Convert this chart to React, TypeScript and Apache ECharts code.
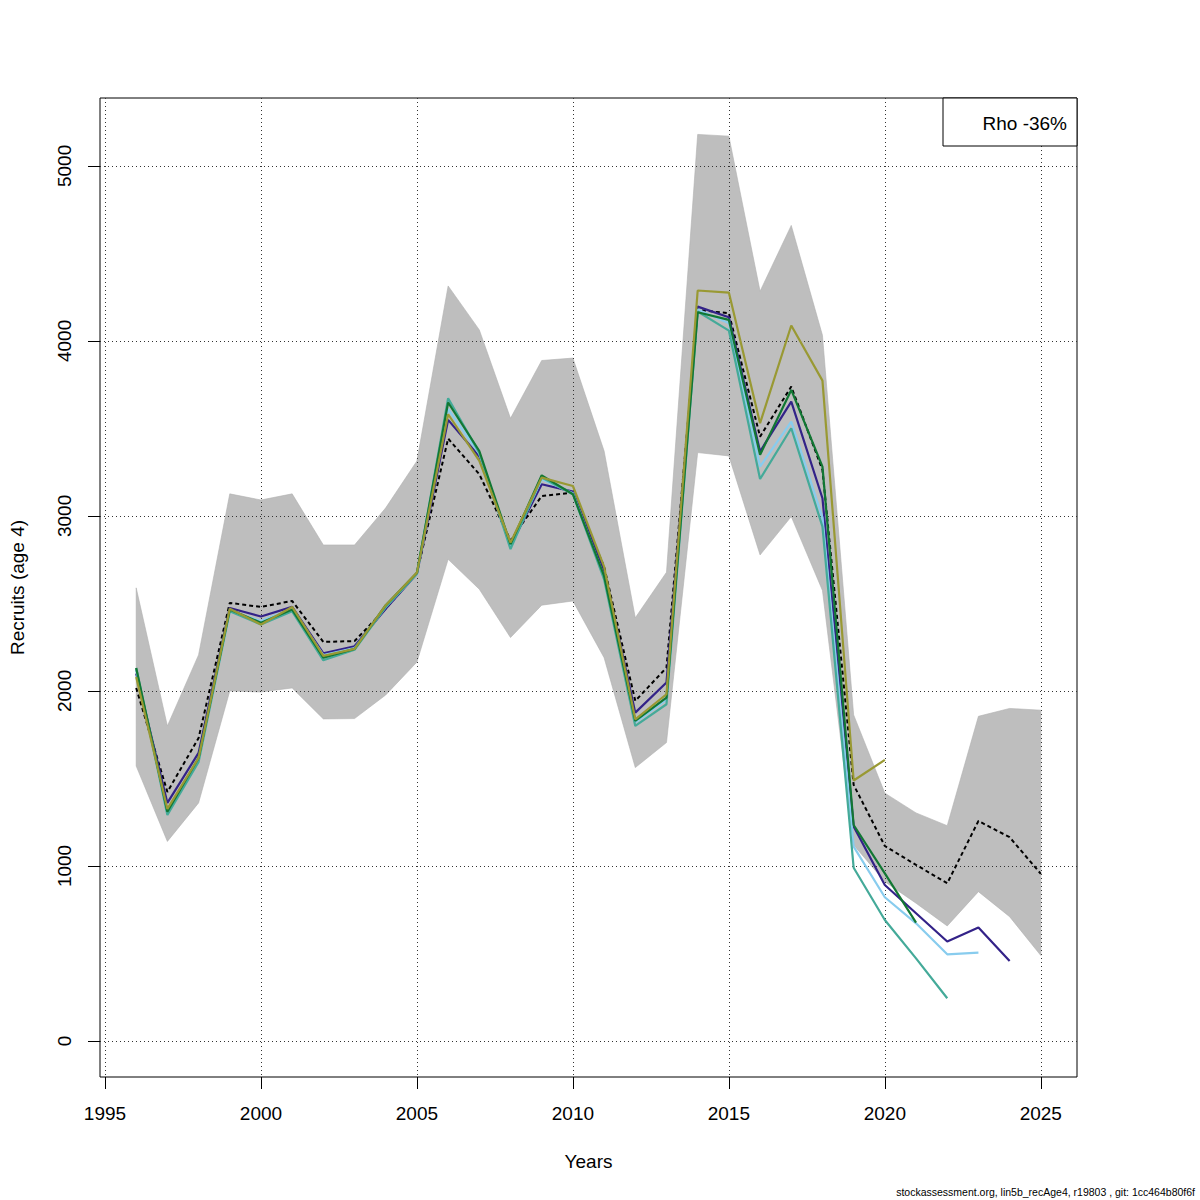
import React, { useEffect, useRef } from "react";
import * as echarts from "echarts";

const years = [1996, 1997, 1998, 1999, 2000, 2001, 2002, 2003, 2004, 2005, 2006, 2007, 2008, 2009, 2010, 2011, 2012, 2013, 2014, 2015, 2016, 2017, 2018, 2019, 2020, 2021, 2022, 2023, 2024, 2025];

const recruits = [2017, 1423, 1731, 2503, 2480, 2514, 2280, 2285, 2470, 2674, 3442, 3238, 2860, 3114, 3133, 2710, 1943, 2133, 4177, 4158, 3453, 3739, 3263, 1463, 1114, 1006, 901, 1257, 1164, 955];
const upperCI = [2589, 1800, 2206, 3126, 3091, 3126, 2834, 2834, 3046, 3314, 4314, 4063, 3558, 3888, 3902, 3371, 2418, 2678, 5180, 5170, 4284, 4660, 4032, 1863, 1416, 1303, 1230, 1855, 1900, 1890];
const lowerCI = [1571, 1140, 1360, 2000, 1994, 2017, 1840, 1842, 1977, 2165, 2752, 2581, 2305, 2490, 2514, 2190, 1562, 1705, 3362, 3343, 2777, 2996, 2574, 1120, 910, 787, 657, 853, 710, 488];

const peel1 = [2100, 1360, 1646, 2474, 2425, 2480, 2215, 2255, 2470, 2670, 3549, 3340, 2830, 3181, 3139, 2690, 1876, 2048, 4196, 4135, 3368, 3653, 3101, 1225, 891, 730, 568, 648, 457];
const peel2 = [2120, 1300, 1605, 2455, 2400, 2470, 2205, 2245, 2480, 2670, 3610, 3355, 2825, 3210, 3130, 2650, 1820, 1950, 4180, 4101, 3282, 3539, 2990, 1110, 821, 672, 495, 505];
const peel3 = [2131, 1291, 1594, 2455, 2380, 2455, 2175, 2235, 2480, 2670, 3672, 3360, 2810, 3220, 3124, 2638, 1800, 1924, 4168, 4059, 3211, 3501, 2939, 990, 691, 472, 244];
const peel4 = [2131, 1310, 1617, 2465, 2390, 2465, 2190, 2240, 2490, 2675, 3648, 3371, 2838, 3232, 3124, 2657, 1829, 1962, 4164, 4120, 3349, 3720, 3282, 1234, 958, 676];
const peel5 = [2080, 1326, 1617, 2470, 2380, 2480, 2200, 2240, 2490, 2676, 3581, 3314, 2848, 3219, 3171, 2710, 1838, 1981, 4288, 4276, 3530, 4088, 3773, 1488, 1606];

const peelColors = ["#332288", "#88CCEE", "#44AA99", "#117733", "#999933"];

const xTicks = [1995, 2000, 2005, 2010, 2015, 2020, 2025];
const yTicks = [0, 1000, 2000, 3000, 4000, 5000];

const xTitle = "Years";
const yTitle = "Recruits (age 4)";
const rhoLabel = "Rho -36%";
const footer = "stockassessment.org, lin5b_recAge4, r19803 , git: 1cc464b80f6f";

const FONT = "'Liberation Sans', Arial, Helvetica, sans-serif";

const pairs = (vals: number[]) => vals.map((v, i) => [years[i], v]);

export default function App() {
  const ref = useRef<HTMLDivElement>(null);

  useEffect(() => {
    document.body.style.margin = "0";
    if (!ref.current) return;
    const chart = echarts.init(ref.current, undefined, { renderer: "svg" });

    const peels = [peel1, peel2, peel3, peel4, peel5];

    const option: any = {
      animation: false,
      backgroundColor: "#ffffff",
      textStyle: { fontFamily: FONT },
      grid: {
        left: 98,
        top: 98,
        width: 979,
        height: 979,
        show: true,
        borderColor: "#000000",
        borderWidth: 1,
        backgroundColor: "transparent",
      },
      xAxis: {
        type: "value",
        min: 1994.84,
        max: 2026.16,
        z: 2,
        name: xTitle,
        nameLocation: "middle",
        nameGap: 75,
        nameTextStyle: { fontSize: 19, color: "#000", fontFamily: FONT },
        axisLine: { show: false, onZero: false },
        axisTick: {
          show: true,
          length: 12,
          inside: false,
          customValues: xTicks,
          lineStyle: { color: "#000", width: 1 },
        },
        axisLabel: {
          show: true,
          customValues: xTicks,
          fontSize: 19,
          color: "#000",
          margin: 27,
          fontFamily: FONT,
          formatter: (v: number) => String(v),
        },
        splitLine: {
          show: true,
          lineStyle: { color: "#333", width: 1, type: [1, 3] },
        },
      },
      yAxis: {
        type: "value",
        min: -206,
        max: 5388,
        z: 2,
        name: yTitle,
        nameLocation: "middle",
        nameGap: 73,
        nameRotate: 90,
        nameTextStyle: { fontSize: 19, color: "#000", fontFamily: FONT },
        axisLine: { show: false, onZero: false },
        axisTick: {
          show: true,
          length: 12,
          inside: false,
          customValues: yTicks,
          lineStyle: { color: "#000", width: 1 },
        },
        axisLabel: {
          show: true,
          customValues: yTicks,
          fontSize: 19,
          color: "#000",
          rotate: 90,
          margin: 26,
          fontFamily: FONT,
          formatter: (v: number) => String(v),
        },
        splitLine: {
          show: true,
          lineStyle: { color: "#333", width: 1, type: [1, 3] },
        },
      },
      series: [
        {
          type: "custom",
          name: "CI",
          z: 1,
          data: years.map((y, i) => [y, lowerCI[i], upperCI[i]]),
          encode: { x: 0, y: [1, 2] },
          renderItem: (params: any, api: any) => {
            if (params.dataIndex !== 0) return null;
            const pts: number[][] = [];
            for (let i = 0; i < years.length; i++) pts.push(api.coord([years[i], upperCI[i]]));
            for (let i = years.length - 1; i >= 0; i--) pts.push(api.coord([years[i], lowerCI[i]]));
            return {
              type: "polygon",
              shape: { points: pts },
              style: { fill: "#BEBEBE", stroke: "#B0B0B0", lineWidth: 0.6 },
            };
          },
        },
        {
          type: "line",
          name: "Estimate",
          z: 3,
          data: pairs(recruits),
          symbol: "none",
          lineStyle: { color: "#000000", width: 2, type: [4, 3] },
        },
        ...peels.map((p, k) => ({
          type: "line",
          name: "Peel " + (k + 1),
          z: 4,
          data: pairs(p),
          symbol: "none",
          lineStyle: { color: peelColors[k], width: 2.2 },
        })),
      ],
      graphic: [
        {
          type: "rect",
          z: 100,
          shape: { x: 943, y: 98, width: 134, height: 48 },
          style: { fill: "#ffffff", stroke: "#000000", lineWidth: 1 },
        },
        {
          type: "text",
          z: 101,
          x: 1067,
          y: 123,
          style: {
            text: rhoLabel,
            fontSize: 19,
            fontFamily: FONT,
            fill: "#000",
            align: "right",
            verticalAlign: "middle",
          },
        },
        {
          type: "text",
          z: 101,
          x: 1195,
          y: 1192,
          style: {
            text: footer,
            fontSize: 10.5,
            fontFamily: FONT,
            fill: "#000",
            align: "right",
            verticalAlign: "middle",
          },
        },
      ],
    };

    chart.setOption(option);
    return () => chart.dispose();
  }, []);

  return (
    <div
      ref={ref}
      style={{ width: 1200, height: 1200, position: "absolute", left: 0, top: 0 }}
    />
  );
}
